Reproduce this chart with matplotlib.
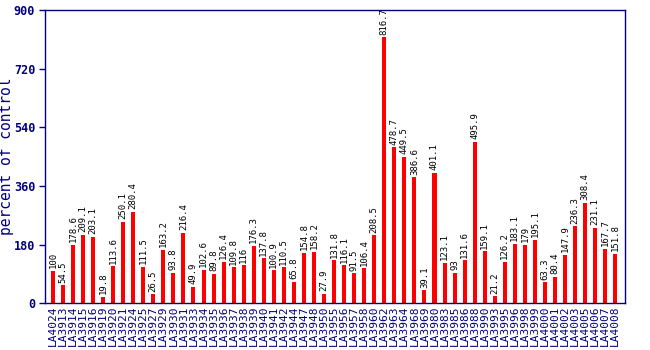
import matplotlib
matplotlib.use("Agg")
import matplotlib.pyplot as plt

labels = ["LA4024", "LA3913", "LA3914", "LA3915", "LA3916", "LA3919", "LA3920", "LA3921",
          "LA3924", "LA3925", "LA3927", "LA3929", "LA3930", "LA3931", "LA3933", "LA3934",
          "LA3935", "LA3936", "LA3937", "LA3938", "LA3939", "LA3940", "LA3941", "LA3942",
          "LA3944", "LA3947", "LA3948", "LA3950", "LA3955", "LA3956", "LA3957", "LA3958",
          "LA3960", "LA3962", "LA3963", "LA3964", "LA3968", "LA3969", "LA3980", "LA3983",
          "LA3985", "LA3986", "LA3988", "LA3990", "LA3993", "LA3995", "LA3996", "LA3998",
          "LA3999", "LA4000", "LA4001", "LA4002", "LA4003", "LA4005", "LA4006", "LA4007",
          "LA4008"]
values = [100, 54.5, 178.6, 209.1, 203.1, 19.8, 113.6, 250.1,
          280.4, 111.5, 26.5, 163.2, 93.8, 216.4, 49.9, 102.6,
          89.8, 126.4, 109.8, 116, 176.3, 137.8, 100.9, 110.5,
          65.8, 154.8, 158.2, 27.9, 131.8, 116.1, 91.5, 106.4,
          208.5, 816.7, 478.7, 449.5, 386.6, 39.1, 401.1, 123.1,
          93, 131.6, 495.9, 159.1, 21.2, 126.2, 183.1, 179,
          195.1, 63.3, 80.4, 147.9, 236.3, 308.4, 231.1, 167.7,
          151.8]
yticks = [0, 180, 360, 540, 720, 900]

navy = "#000080"
mono = "DejaVu Sans Mono"

fig = plt.figure(figsize=(6.5, 3.5), dpi=100)
ax = fig.add_axes([0.069, 0.134, 0.893, 0.837])

x = list(range(len(values)))
ax.bar(x, values, width=0.4, color="#ff0000")

for i, v in zip(x, values):
    txt = ("%g" % v)
    ax.text(i, v + 8, txt, rotation=90, ha="center", va="bottom",
            fontsize=6.5, family=mono, color="black", clip_on=True)

ax.set_xlim(-0.8, len(values))
ax.set_ylim(0, 900)
ax.set_yticks(yticks)
ax.set_yticklabels([str(t) for t in yticks], family=mono, fontweight="bold",
                   fontsize=8.5, color=navy)
ax.set_xticks(x)
ax.set_xticklabels(labels, rotation=90, family=mono, fontsize=8, color=navy)
ax.tick_params(axis="x", length=0, pad=2)
ax.tick_params(axis="y", length=4, color=navy, width=1, pad=3)
ax.set_ylabel("percent of control", family=mono, fontsize=10.5, color=navy)
ax.yaxis.set_label_coords(-0.053, 0.5)

for s in ax.spines.values():
    s.set_color(navy)
    s.set_linewidth(1)

fig.savefig("out.png", dpi=100)
